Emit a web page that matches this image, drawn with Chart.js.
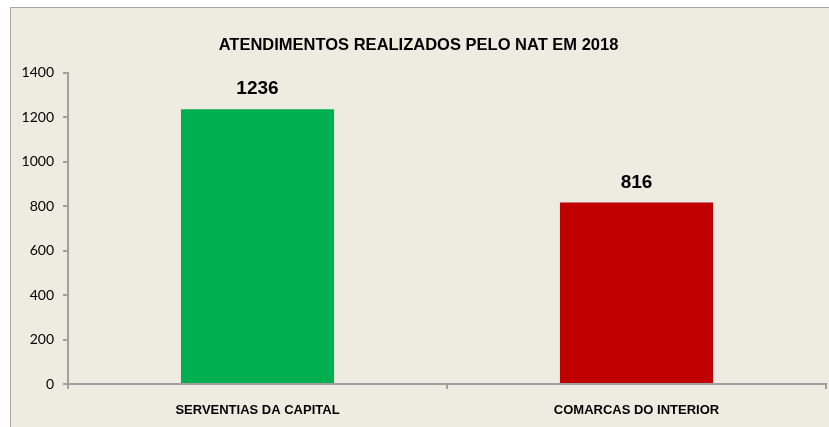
<!DOCTYPE html>
<html>
<head>
<meta charset="utf-8">
<script src="https://cdn.jsdelivr.net/npm/chart.js@4"></script>
<style>
  body { margin: 0; background: #fff; }
  #frame {
    position: absolute; left: 10px; top: 7px;
    width: 819px; height: 420px;
    background: #EEECE1;
    border-left: 1px solid #A6A6A6;
    border-top: 1px solid #A6A6A6;
  }
  #chart { display: block; }
</style>
</head>
<body>
<div id="frame"><canvas id="chart" width="818" height="419"></canvas></div>
<script>
// Chart data
const categories = ['SERVENTIAS DA CAPITAL', 'COMARCAS DO INTERIOR'];
const atendimentos = [1236, 816];
const barColors = ['#00B050', '#C00000'];
const titleText = 'ATENDIMENTOS REALIZADOS PELO NAT EM 2018';

// Draws the value above each bar
const valueLabels = {
  id: 'valueLabels',
  afterDatasetsDraw(chart) {
    const ctx = chart.ctx;
    const meta = chart.getDatasetMeta(0);
    ctx.save();
    ctx.font = 'bold 19px "Liberation Sans Narrow", sans-serif';
    ctx.fillStyle = '#000';
    ctx.textAlign = 'center';
    ctx.textBaseline = 'middle';
    meta.data.forEach((bar, i) => {
      ctx.fillText(String(atendimentos[i]), bar.x, bar.y - 20);
    });
    ctx.restore();
  }
};

const axisColor = '#A0A0A0';

new Chart(document.getElementById('chart'), {
  type: 'bar',
  data: {
    labels: categories,
    datasets: [{
      data: atendimentos,
      backgroundColor: barColors,
      barPercentage: 0.8,
      categoryPercentage: 0.505
    }]
  },
  options: {
    responsive: false,
    animation: false,
    layout: { padding: { left: 0, right: 3, top: 0, bottom: 0 } },
    plugins: {
      legend: { display: false },
      tooltip: { enabled: false },
      title: {
        display: true,
        text: titleText,
        color: '#000',
        font: { family: '"Liberation Sans Narrow", sans-serif', size: 16.5, weight: 'bold' },
        padding: { top: 28, bottom: 17 }
      }
    },
    scales: {
      x: {
        offset: true,
        border: { color: axisColor, width: 2 },
        grid: { offset: true, drawOnChartArea: false, color: axisColor, tickLength: 5, lineWidth: 2 },
        ticks: {
          color: '#000',
          padding: 14,
          font: { family: '"Liberation Sans Narrow", sans-serif', size: 13, weight: 'bold' }
        },
        afterFit(scale) { scale.height = 43; }
      },
      y: {
        min: 0,
        max: 1400,
        border: { color: axisColor, width: 2 },
        grid: { drawOnChartArea: false, color: axisColor, tickLength: 5, lineWidth: 2 },
        ticks: {
          stepSize: 200,
          color: '#000',
          padding: 9,
          font: { family: 'Lato, sans-serif', size: 14 },
          callback: (v) => String(v)
        },
        afterFit(scale) { scale.width = 57; }
      }
    }
  },
  plugins: [valueLabels]
});
</script>
</body>
</html>
